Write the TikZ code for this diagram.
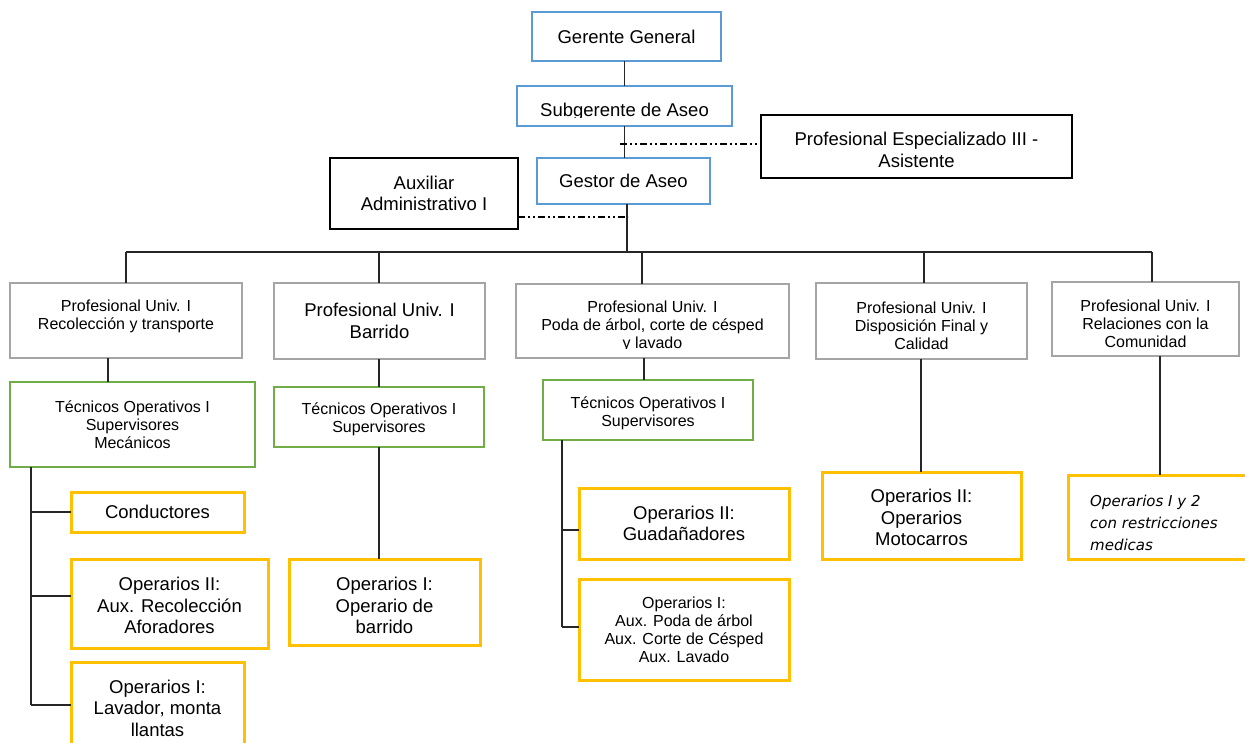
\documentclass[tikz,border=0pt]{standalone}
\usepackage{fontspec}
\setmainfont{Liberation Sans}
\newfontfamily\dvsfont{DejaVu Sans}
\definecolor{bblue}{HTML}{5B9BD5}
\definecolor{bgray}{HTML}{A5A5A5}
\definecolor{bgreen}{HTML}{70AD47}
\definecolor{byellow}{HTML}{FFC000}
\newcommand\bigf{\fontsize{18.5}{21.5}\selectfont}
\newcommand\smallf{\fontsize{16}{18}\selectfont}
\newcommand\relf{\dvsfont\itshape\fontsize{15}{22}\selectfont}
\tikzset{
  boxbase/.style={draw, rectangle, inner sep=0pt, outer sep=0pt},
  bluebox/.style={boxbase, draw=bblue, line width=2.8pt},
  graybox/.style={boxbase, draw=bgray, line width=2.8pt},
  greenbox/.style={boxbase, draw=bgreen, line width=2.8pt},
  yellowbox/.style={boxbase, draw=byellow, line width=3pt},
  blackbox/.style={boxbase, draw=black, line width=1.3pt},
  txt/.style={align=center, inner sep=0pt},
  conn/.style={draw=black!85, line width=1.3pt},
  dashdot/.style={draw=black, line width=1.2pt, dash pattern=on 7pt off 3pt on 2pt off 3pt on 2pt off 3pt},
}
% name, style, x1, y1, x2, y2
\newcommand\onlybox[6]{%
  \node[#2, minimum width={#5-#3}, minimum height={#6-#4}] (#1) at ({(#3+#5)/2},{(#4+#6)/2}) {};}
% name, style, x1, y1, x2, y2, dy, font, text
\newcommand\obox[9]{%
  \onlybox{#1}{#2}{#3}{#4}{#5}{#6}%
  \node[txt, font=#8] (#1t) at ({(#3+#5)/2},{(#4+#6)/2+#7}) {#9};}
\begin{document}
\begin{tikzpicture}[x=1pt,y=-1pt]
\useasboundingbox (0,0) rectangle (1245,743);
\clip (0,0) rectangle (1245,743);
\fill[white] (0,0) rectangle (1245,743);
% top
\obox{GG}{bluebox}{532}{12}{721}{61}{0}{\bigf}{Gerente General}
\onlybox{SG}{bluebox}{517}{86}{732}{126}
\begin{scope}
  \clip (517,86) rectangle (732,117.5);
  \node[txt, font=\bigf] (SGtxt) at (624.5,112) {Subgerente de Aseo};
\end{scope}
\obox{GA}{bluebox}{537}{158}{710}{204}{0}{\bigf}{Gestor de Aseo}
\obox{PE}{blackbox}{761}{115}{1072}{178}{3.5}{\bigf}{Profesional Especializado III -\\Asistente}
\obox{AA}{blackbox}{330}{158}{518}{229}{0}{\bigf}{Auxiliar\\Administrativo I}
% profesionales
\obox{P1}{graybox}{10}{283}{242}{358}{-4}{\smallf}{Profesional Univ. I\\Recolección y transporte}
\obox{P2}{graybox}{274}{283}{485}{359}{0}{\bigf}{Profesional Univ. I\\Barrido}
\onlybox{P3}{graybox}{516}{284}{789}{358}
\begin{scope}
  \clip (516,284) rectangle (789,348.5);
  \node[txt, font=\smallf] (P3txt) at (652.5,326) {Profesional Univ. I\\Poda de árbol, corte de césped\\y lavado};
\end{scope}
\obox{P4}{graybox}{816}{283}{1027}{359}{5}{\smallf}{Profesional Univ. I\\Disposición Final y\\Calidad}
\obox{P5}{graybox}{1052}{282}{1239}{356}{4.5}{\smallf}{Profesional Univ. I\\Relaciones con la\\Comunidad}
% tecnicos
\obox{T1}{greenbox}{10}{382}{255}{467}{0}{\smallf}{Técnicos Operativos I\\Supervisores\\Mecánicos}
\obox{T2}{greenbox}{274}{387}{484}{447}{2.5}{\smallf}{Técnicos Operativos I\\Supervisores}
\obox{T3}{greenbox}{543}{380}{753}{440}{3}{\smallf}{Técnicos Operativos I\\Supervisores}
% operarios
\obox{C}{yellowbox}{71}{492}{244}{532}{0}{\bigf}{Conductores}
\obox{O2R}{yellowbox}{71}{559}{268}{648}{2}{\bigf}{Operarios II:\\Aux. Recolección\\Aforadores}
\obox{O1L}{yellowbox}{71}{662}{244}{790}{-18}{\bigf}{Operarios I:\\Lavador, monta\\llantas}
\obox{O1B}{yellowbox}{289}{559}{480}{645}{3.5}{\bigf}{Operarios I:\\Operario de\\barrido}
\obox{G}{yellowbox}{579}{488}{789}{559}{0}{\bigf}{Operarios II:\\Guadañadores}
\obox{O1P}{yellowbox}{579}{579}{789}{680}{0}{\smallf}{Operarios I:\\Aux. Poda de árbol\\Aux. Corte de Césped\\Aux. Lavado}
\obox{M}{yellowbox}{822}{472}{1021}{559}{2}{\bigf}{Operarios II:\\Operarios\\Motocarros}
\onlybox{R}{yellowbox}{1068}{475}{1290}{559}
\node[anchor=west, align=left, inner sep=0pt, font=\relf] (Rt) at (1090,523) {Operarios I y 2\\con restricciones\\medicas};
% connectors top
\draw[conn] (SG.north |- GG.south) -- (SG.north);
\draw[conn] (SG.south) -- (SG.south |- GA.north);
\coordinate (dd1) at (620,144);
\draw[dashdot] (dd1) -- (dd1 -| PE.west);
\coordinate (dd2) at (628,217);
\draw[dashdot] (dd2 -| AA.east) -- (dd2);
\coordinate (busL) at (126,252);
\coordinate (busR) at (1152,252);
\coordinate (busM) at (627,252);
\coordinate (d2) at (379,252);
\coordinate (d3) at (642,252);
\coordinate (d4) at (924,252);
\draw[conn] (busM |- GA.south) -- (busM);
\draw[conn] (busL) -- (busR);
\draw[conn] (busL) -- (busL |- P1.north);
\draw[conn] (d2) -- (d2 |- P2.north);
\draw[conn] (d3) -- (d3 |- P3.north);
\draw[conn] (d4) -- (d4 |- P4.north);
\draw[conn] (busR) -- (busR |- P5.north);
% to tecnicos
\coordinate (x108) at (108,0);
\draw[conn] (P1.south -| x108) -- (T1.north -| x108);
\draw[conn] (T2.north |- P2.south) -- (T2.north);
\coordinate (x644) at (644,0);
\draw[conn] (P3.south -| x644) -- (T3.north -| x644);
% left trunk
\coordinate (trL) at (31,705);
\coordinate (bO2) at (31,596);
\draw[conn] (T1.south -| trL) -- (trL);
\draw[conn] (trL |- C.west) -- (C.west);
\draw[conn] (bO2) -- (bO2 -| O2R.west);
\draw[conn] (trL) -- (trL -| O1L.west);
% barrido
\draw[conn] (T2.south) -- (T2.south |- O1B.north);
% poda trunk
\coordinate (trR) at (562,627);
\coordinate (bG) at (562,530);
\draw[conn] (T3.south -| trR) -- (trR);
\draw[conn] (bG) -- (bG -| G.west);
\draw[conn] (trR) -- (trR -| O1P.west);
% disposicion, relaciones
\coordinate (x921) at (921,0);
\draw[conn] (P4.south -| x921) -- (M.north -| x921);
\coordinate (x1160) at (1160,0);
\draw[conn] (P5.south -| x1160) -- (R.north -| x1160);
\end{tikzpicture}
\end{document}
